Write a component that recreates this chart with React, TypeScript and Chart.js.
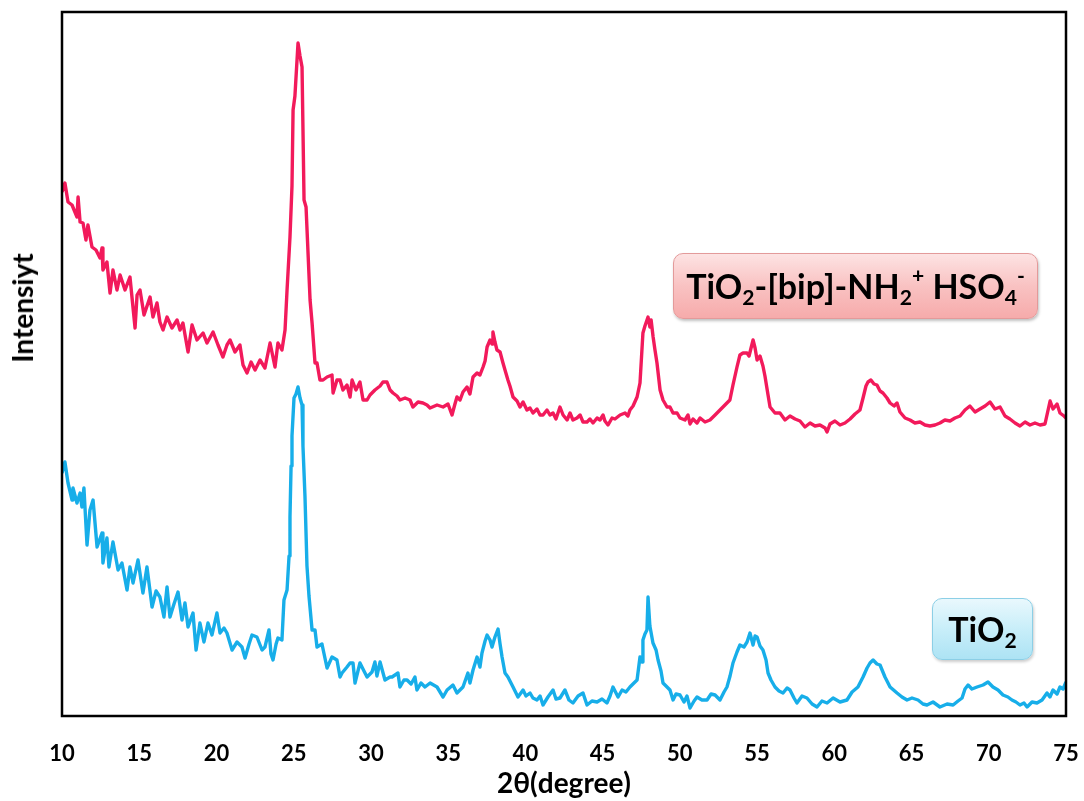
import React, { useEffect, useRef } from "react";
import { Chart, registerables } from "chart.js";

Chart.register(...registerables);

const xTickValues = [10, 15, 20, 25, 30, 35, 40, 45, 50, 55, 60, 65, 70, 75];
const xAxisTitle = "2θ(degree)";
const yAxisTitle = "Intensiyt";

// [2θ, intensity (a.u.)]
const modifiedSeries: [number, number][] = [
  [10.0, 524], [10.19, 533], [10.39, 514], [10.65, 511], [10.97, 499], [11.04, 519], [11.17, 494], [11.36, 493],
  [11.55, 476], [11.68, 491], [11.94, 469], [12.2, 466], [12.46, 458], [12.59, 468], [12.65, 446], [12.91, 454],
  [13.11, 423], [13.3, 446], [13.56, 426], [13.76, 441], [14.08, 426], [14.4, 439], [14.73, 388], [14.86, 421],
  [15.05, 426], [15.31, 401], [15.7, 419], [15.89, 399], [16.15, 413], [16.34, 394], [16.54, 386], [16.8, 399],
  [17.12, 388], [17.45, 396], [17.64, 386], [17.83, 393], [18.16, 364], [18.42, 391], [18.74, 376], [19.13, 383],
  [19.39, 373], [19.78, 384], [20.1, 371], [20.42, 359], [20.68, 371], [20.88, 376], [21.2, 364], [21.52, 371],
  [21.72, 351], [21.98, 343], [22.24, 354], [22.5, 346], [22.82, 356], [23.14, 348], [23.47, 373], [23.79, 349],
  [23.98, 373], [24.24, 366], [24.44, 386], [24.57, 426], [24.76, 479], [24.89, 530], [24.96, 606], [25.08, 620],
  [25.28, 673], [25.41, 660], [25.54, 649], [25.67, 516], [25.8, 509], [26.06, 416], [26.19, 393], [26.38, 353],
  [26.51, 353], [26.7, 336], [26.9, 336], [27.16, 339], [27.48, 341], [27.55, 323], [27.8, 336], [28.0, 336],
  [28.19, 326], [28.45, 331], [28.65, 319], [28.78, 336], [29.03, 326], [29.29, 334], [29.49, 316], [29.75, 316],
  [29.94, 321], [30.26, 326], [30.59, 330], [30.78, 334], [31.04, 334], [31.24, 326], [31.43, 323], [31.69, 320],
  [31.88, 316], [32.21, 318], [32.53, 316], [32.72, 309], [33.05, 314], [33.37, 313], [33.63, 311], [33.83, 308],
  [34.28, 311], [34.67, 309], [34.99, 312], [35.25, 301], [35.44, 312], [35.57, 319], [35.77, 316], [35.96, 324],
  [36.22, 329], [36.41, 322], [36.61, 339], [36.87, 343], [37.06, 341], [37.26, 349], [37.39, 355], [37.52, 369],
  [37.71, 376], [37.84, 372], [37.9, 384], [38.03, 374], [38.16, 366], [38.36, 364], [38.55, 353], [38.68, 346],
  [38.87, 336], [39.0, 330], [39.2, 319], [39.46, 315], [39.65, 309], [39.85, 314], [40.1, 306], [40.3, 308],
  [40.49, 303], [40.75, 307], [40.95, 301], [41.14, 301], [41.4, 306], [41.59, 301], [41.79, 303], [41.98, 297],
  [42.24, 309], [42.44, 301], [42.7, 296], [42.89, 303], [43.08, 296], [43.34, 298], [43.54, 301], [43.73, 294],
  [43.99, 294], [44.18, 297], [44.38, 293], [44.64, 298], [44.83, 296], [45.03, 301], [45.15, 295], [45.35, 291],
  [45.61, 298], [45.8, 297], [46.13, 301], [46.45, 303], [46.64, 300], [46.77, 306], [46.97, 310], [47.23, 319],
  [47.42, 333], [47.61, 383], [47.74, 390], [47.94, 399], [48.06, 389], [48.14, 396], [48.27, 379], [48.39, 366],
  [48.52, 353], [48.72, 326], [48.91, 316], [49.17, 309], [49.36, 309], [49.56, 303], [49.82, 303], [50.01, 298],
  [50.33, 296], [50.53, 301], [50.66, 292], [50.85, 297], [51.11, 293], [51.31, 298], [51.63, 294], [51.95, 296],
  [52.28, 301], [52.6, 306], [52.92, 311], [53.24, 316], [53.44, 331], [53.7, 349], [53.89, 361], [54.09, 363],
  [54.35, 363], [54.48, 360], [54.61, 368], [54.74, 376], [54.87, 368], [55.0, 356], [55.19, 360], [55.38, 350],
  [55.51, 340], [55.71, 321], [55.84, 309], [56.16, 303], [56.48, 303], [56.81, 296], [57.13, 300], [57.46, 297],
  [57.78, 295], [58.1, 289], [58.43, 293], [58.75, 290], [59.07, 291], [59.4, 288], [59.53, 284], [59.72, 292],
  [60.04, 295], [60.37, 291], [60.69, 293], [61.02, 297], [61.34, 302], [61.66, 306], [61.86, 318], [62.05, 330],
  [62.18, 334], [62.37, 336], [62.57, 332], [62.76, 331], [62.96, 325], [63.15, 323], [63.41, 318], [63.61, 313],
  [63.87, 310], [64.06, 313], [64.25, 304], [64.58, 298], [64.9, 296], [65.22, 293], [65.55, 294], [65.87, 291],
  [66.19, 290], [66.52, 291], [66.84, 293], [67.16, 296], [67.49, 295], [67.81, 298], [68.14, 300], [68.46, 306],
  [68.78, 310], [69.11, 304], [69.43, 307], [69.76, 310], [70.08, 314], [70.4, 307], [70.73, 309], [71.05, 300],
  [71.37, 297], [71.7, 293], [72.02, 290], [72.35, 294], [72.67, 291], [72.99, 293], [73.32, 291], [73.64, 292],
  [73.97, 315], [74.16, 307], [74.42, 312], [74.61, 303], [74.87, 300], [75.0, 298],
];

const tio2Series: [number, number][] = [
  [10.0, 243], [10.19, 254], [10.39, 233], [10.65, 216], [10.71, 228], [10.97, 213], [11.17, 223], [11.29, 209],
  [11.42, 228], [11.62, 171], [11.81, 206], [12.01, 216], [12.27, 169], [12.59, 183], [12.65, 153], [12.91, 178],
  [13.04, 149], [13.3, 174], [13.63, 146], [13.88, 153], [14.21, 126], [14.4, 149], [14.6, 133], [14.92, 156],
  [15.24, 123], [15.5, 149], [15.83, 109], [16.09, 125], [16.34, 119], [16.6, 99], [16.8, 129], [16.99, 99],
  [17.25, 112], [17.51, 124], [17.77, 96], [17.96, 113], [18.16, 89], [18.48, 103], [18.68, 66], [18.93, 93],
  [19.19, 74], [19.45, 93], [19.71, 81], [20.03, 103], [20.23, 83], [20.49, 88], [20.68, 83], [21.01, 66],
  [21.33, 74], [21.65, 69], [21.85, 58], [22.11, 72], [22.3, 81], [22.62, 79], [22.95, 66], [23.14, 69],
  [23.4, 86], [23.53, 62], [23.66, 56], [23.86, 72], [23.98, 78], [24.24, 76], [24.37, 116], [24.57, 126],
  [24.7, 160], [24.76, 199], [24.83, 250], [24.89, 280], [25.02, 318], [25.15, 322], [25.28, 329], [25.41, 318],
  [25.54, 311], [25.6, 270], [25.73, 220], [25.86, 150], [25.99, 120], [26.19, 86], [26.38, 86], [26.51, 69],
  [26.83, 72], [27.16, 48], [27.48, 59], [27.8, 56], [28.0, 39], [28.13, 43], [28.45, 49], [28.65, 53],
  [28.84, 53], [28.97, 33], [29.29, 53], [29.55, 45], [29.75, 39], [30.07, 44], [30.26, 54], [30.39, 40],
  [30.59, 54], [30.91, 36], [31.24, 39], [31.37, 39], [31.75, 43], [31.88, 29], [32.14, 36], [32.34, 36],
  [32.6, 32], [32.85, 39], [32.98, 26], [33.24, 33], [33.5, 29], [33.83, 33], [34.28, 29], [34.67, 19],
  [34.93, 26], [35.31, 31], [35.57, 23], [35.96, 29], [36.28, 43], [36.41, 33], [36.61, 46], [36.87, 59],
  [37.06, 49], [37.19, 63], [37.39, 75], [37.52, 81], [37.71, 76], [37.84, 69], [38.03, 79], [38.23, 87],
  [38.36, 72], [38.49, 59], [38.68, 43], [38.87, 39], [39.2, 29], [39.52, 19], [39.85, 26], [40.04, 20],
  [40.3, 23], [40.49, 18], [40.75, 16], [40.95, 20], [41.14, 11], [41.46, 19], [41.79, 26], [41.98, 17],
  [42.24, 18], [42.56, 26], [42.82, 16], [43.08, 13], [43.41, 20], [43.73, 23], [43.99, 11], [44.31, 15],
  [44.64, 14], [44.96, 17], [45.28, 13], [45.48, 20], [45.67, 29], [46.0, 19], [46.26, 26], [46.51, 24],
  [46.77, 29], [47.03, 33], [47.23, 36], [47.42, 59], [47.55, 54], [47.61, 76], [47.74, 82], [47.87, 86],
  [47.94, 119], [48.06, 90], [48.26, 73], [48.46, 66], [48.59, 56], [48.78, 45], [48.91, 33], [49.17, 29],
  [49.36, 26], [49.56, 16], [49.75, 22], [50.01, 21], [50.27, 14], [50.46, 20], [50.66, 8], [50.92, 15],
  [51.11, 19], [51.43, 16], [51.76, 16], [52.02, 22], [52.28, 21], [52.6, 16], [52.86, 24], [53.05, 29],
  [53.25, 40], [53.44, 53], [53.7, 64], [53.89, 71], [54.15, 69], [54.35, 74], [54.54, 83], [54.74, 71],
  [54.87, 80], [55.0, 79], [55.19, 70], [55.38, 66], [55.58, 56], [55.71, 43], [55.9, 36], [56.16, 29],
  [56.42, 25], [56.68, 23], [56.94, 28], [57.13, 26], [57.39, 18], [57.58, 13], [57.91, 20], [58.23, 18],
  [58.56, 12], [58.88, 9], [59.2, 15], [59.53, 13], [59.92, 18], [60.37, 14], [60.82, 16], [61.15, 24],
  [61.53, 29], [61.86, 39], [62.12, 48], [62.31, 53], [62.51, 56], [62.76, 52], [62.96, 51], [63.28, 39],
  [63.61, 29], [64.06, 23], [64.38, 19], [64.71, 16], [65.03, 18], [65.42, 16], [65.74, 12], [66.0, 11],
  [66.39, 14], [66.84, 9], [67.3, 12], [67.69, 11], [68.01, 15], [68.27, 18], [68.46, 27], [68.66, 31],
  [68.91, 27], [69.24, 29], [69.63, 31], [69.95, 34], [70.27, 29], [70.6, 26], [70.92, 21], [71.24, 19],
  [71.5, 16], [71.76, 14], [72.02, 11], [72.28, 13], [72.48, 9], [72.8, 14], [73.12, 13], [73.45, 16],
  [73.77, 23], [73.96, 19], [74.16, 26], [74.42, 22], [74.61, 29], [74.81, 27], [75.0, 34],
];

const seriesNames = ["TiO2-[bip]-NH2+ HSO4-", "TiO2"];
const seriesColors = ["#F21A5B", "#17AEE9"];

const framePlugin = {
  id: "frame",
  afterDatasetsDraw(chart: any) {
    const { ctx, chartArea } = chart;
    const { left, top, right, bottom } = chartArea;
    ctx.save();
    ctx.strokeStyle = "#000";
    ctx.lineWidth = 2.5;
    ctx.strokeRect(left, top, right - left, bottom - top);
    ctx.restore();
  },
};

const FONT = "Lato, 'Open Sans', sans-serif";

export default function App() {
  const canvasRef = useRef<HTMLCanvasElement | null>(null);

  useEffect(() => {
    document.body.style.margin = "0";
    const canvas = canvasRef.current;
    if (!canvas) return;
    const chart = new Chart(canvas, {
      type: "line",
      data: {
        datasets: [
          {
            label: seriesNames[0],
            data: modifiedSeries.map(([x, y]) => ({ x, y })),
            borderColor: seriesColors[0],
            borderWidth: 3.4,
            pointRadius: 0,
            tension: 0,
            borderJoinStyle: "round",
            fill: false,
          },
          {
            label: seriesNames[1],
            data: tio2Series.map(([x, y]) => ({ x, y })),
            borderColor: seriesColors[1],
            borderWidth: 3.4,
            pointRadius: 0,
            tension: 0,
            borderJoinStyle: "round",
            fill: false,
          },
        ],
      },
      options: {
        animation: false,
        responsive: true,
        maintainAspectRatio: false,
        layout: { padding: { left: 62, top: 12, right: 18, bottom: 0 } },
        plugins: { legend: { display: false }, tooltip: { enabled: false } },
        scales: {
          x: {
            type: "linear",
            min: 10,
            max: 75,
            afterBuildTicks: (scale: any) => {
              scale.ticks = xTickValues.map((v) => ({ value: v }));
            },
            afterFit: (scale: any) => {
              scale.height = 85;
              scale.paddingLeft = 0;
              scale.paddingRight = 0;
            },
            grid: { display: false },
            border: { display: false },
            ticks: {
              padding: 17,
              color: "#000",
              maxRotation: 0,
              autoSkip: false,
              font: { family: FONT, size: 22, weight: "bold" },
            },
            title: {
              display: true,
              text: xAxisTitle,
              color: "#000",
              padding: { top: 4, bottom: 0 },
              font: { family: FONT, size: 28, weight: "bold" },
            },
          },
          y: {
            display: false,
            min: 0,
            max: 704,
          },
        },
      },
      plugins: [framePlugin],
    });
    return () => chart.destroy();
  }, []);

  const boxText: React.CSSProperties = {
    fontFamily: FONT,
    fontWeight: 700,
    color: "#000",
    whiteSpace: "nowrap",
    lineHeight: 1,
  };
  const sub: React.CSSProperties = { fontSize: "0.62em", verticalAlign: "-0.3em", lineHeight: 0 };
  const sup: React.CSSProperties = { fontSize: "0.62em", verticalAlign: "0.75em", lineHeight: 0 };

  return (
    <div style={{ position: "absolute", left: 0, top: 0, width: 1084, height: 801, background: "#fff" }}>
      <canvas ref={canvasRef} />
      <div
        style={{
          position: "absolute",
          left: 22,
          top: 308,
          transform: "translate(-50%, -50%) rotate(-90deg)",
          fontFamily: FONT,
          fontWeight: 700,
          fontSize: 28,
          color: "#000",
          whiteSpace: "nowrap",
        }}
      >
        {yAxisTitle}
      </div>
      <div
        style={{
          position: "absolute",
          left: 673,
          top: 253,
          width: 365,
          height: 66,
          boxSizing: "border-box",
          borderRadius: 10,
          border: "1px solid #e39a9a",
          background: "linear-gradient(to bottom, #fde3e3 0%, #f9c2c2 50%, #f6abab 100%)",
          boxShadow: "1px 2px 3px rgba(0,0,0,0.25)",
          display: "flex",
          alignItems: "center",
          justifyContent: "center",
          ...boxText,
          fontSize: 34,
        }}
      >
        <span>
          TiO<span style={sub}>2</span>-[bip]-NH<span style={sub}>2</span>
          <span style={sup}>+</span> HSO<span style={sub}>4</span>
          <span style={sup}>-</span>
        </span>
      </div>
      <div
        style={{
          position: "absolute",
          left: 932,
          top: 598,
          width: 101,
          height: 62,
          boxSizing: "border-box",
          borderRadius: 10,
          border: "1px solid #8ccfe6",
          background: "linear-gradient(to bottom, #e9f8fd 0%, #c8eef9 50%, #ade3f4 100%)",
          boxShadow: "1px 2px 3px rgba(0,0,0,0.2)",
          display: "flex",
          alignItems: "center",
          justifyContent: "center",
          ...boxText,
          fontSize: 34,
        }}
      >
        <span>
          TiO<span style={sub}>2</span>
        </span>
      </div>
    </div>
  );
}
